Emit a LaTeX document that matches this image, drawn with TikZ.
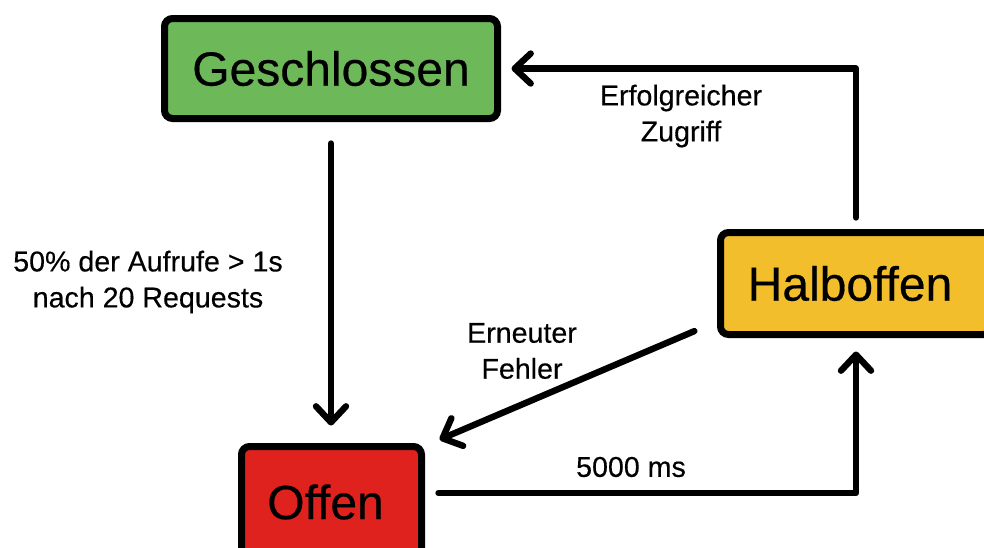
\documentclass[tikz,border=0pt]{standalone}
\usepackage{fontspec}
\setmainfont[FakeBold=0.4]{Liberation Sans}
\usetikzlibrary{arrows.meta}
\definecolor{zuGruen}{HTML}{6DB95A}
\definecolor{halbGelb}{HTML}{F2BE2B}
\definecolor{offenRot}{HTML}{E0221F}
\begin{document}
\begin{tikzpicture}[x=0.5pt,y=-0.5pt,
    state/.style={draw=black,line width=3.5pt,rounded corners=4pt,inner sep=0pt,font=\fontsize{24}{28}\selectfont},
    lbl/.style={align=center,inner sep=0pt,font=\fontsize{14.3}{18}\selectfont},
    arr/.style={line width=3.2pt,line cap=round,line join=round,-{Straight Barb[length=8pt,width=15pt,round]}}]
  \useasboundingbox (0,0) rectangle (984,547);
  % Zustaende
  \node[state,fill=zuGruen,minimum width=166.5pt,minimum height=50pt] (gesch) at (331,68.5) {Geschlossen};
  \node[state,fill=halbGelb,minimum width=135.5pt,minimum height=51pt] (halb) at (856,283.5) {\hspace*{-6pt}Halboffen};
  \node[state,fill=offenRot,minimum width=90pt,minimum height=55.5pt] (offen) at (331.5,502) {\hspace*{-6pt}Offen};
  % Uebergaenge
  \draw[arr,shorten <=10.75pt,shorten >=8.75pt] (gesch.south) -- (gesch.south |- offen.north);
  \draw[arr,shorten <=5.75pt,shorten >=5.25pt] (halb.north) |- (gesch.east);
  \draw[arr,shorten <=12.3pt,shorten >=4.4pt] ([yshift=8.25pt]halb.south west) -- ([xshift=3.25pt]offen.north east);
  \draw[arr,shorten <=6.75pt,shorten >=6.75pt] ([yshift=4.5pt]offen.east) -| (halb.south);
  % Beschriftungen
  \node[lbl] (lblAuf) at (148,282) {50\% der Aufrufe > 1s\\nach 20 Requests};
  \node[lbl] (lblErf) at (681,116) {Erfolgreicher\\Zugriff};
  \node[lbl] (lblFeh) at (522,351) {Erneuter\\Fehler};
  \node[lbl] (lblZeit) at (631,467) {5000 ms};
\end{tikzpicture}
\end{document}
